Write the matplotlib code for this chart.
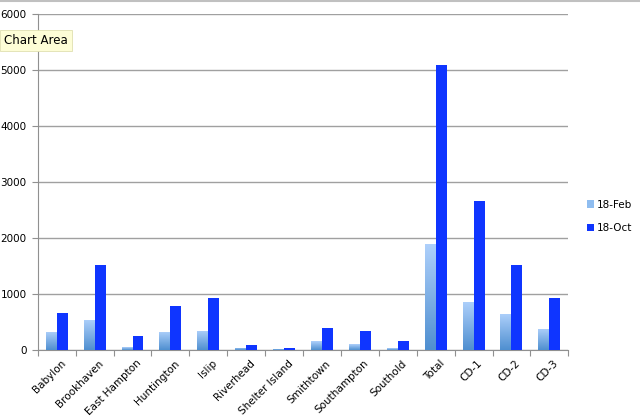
import matplotlib
matplotlib.use('Agg')
import matplotlib.pyplot as plt
import numpy as np
from matplotlib.colors import LinearSegmentedColormap

categories = ['Babylon', 'Brookhaven', 'East Hampton', 'Huntington', 'Islip', 'Riverhead',
              'Shelter Island', 'Smithtown', 'Southampton', 'Southold', 'Total',
              'CD-1', 'CD-2', 'CD-3']
feb = [327, 536, 48, 327, 340, 36, 18, 160, 107, 30, 1890, 863, 643, 375]
octo = [655, 1518, 250, 786, 923, 95, 36, 387, 333, 155, 5090, 2649, 1518, 929]
yticks = [0, 1000, 2000, 3000, 4000, 5000, 6000]

plt.rcParams['font.family'] = ['DejaVu Sans']
fig = plt.figure(figsize=(6.4, 4.18), dpi=100)
ax = fig.add_axes([0.059, 0.163, 0.829, 0.804])

x = np.arange(len(categories))
w = 0.29
grad = LinearSegmentedColormap.from_list('feb', ['#4f8fd0', '#aed0fb'])
bf = ax.bar(x - w/2, feb, w, color='#8fbdf0', edgecolor='none', label='18-Feb', zorder=3)
bo = ax.bar(x + w/2, octo, w, color='#0f35ff', edgecolor='none', label='18-Oct', zorder=3)
# vertical gradient on the Feb bars
for b in bf:
    x0, y0 = b.get_x(), b.get_y()
    im = ax.imshow(np.linspace(0, 1, 100).reshape(-1, 1), cmap=grad, origin='lower',
                   extent=[x0, x0 + b.get_width(), y0, y0 + b.get_height()],
                   aspect='auto', zorder=3)
    im.set_clip_path(b)

ax.set_xlim(-0.5, len(categories) - 0.5)
ax.set_ylim(0, 6000)
ax.set_yticks(yticks)
ax.set_yticklabels([str(t) for t in yticks], fontsize=7.5)
ax.yaxis.grid(True, color='#a0a0a0', lw=1, zorder=0)
ax.set_xticks(np.arange(len(categories) + 1) - 0.5, minor=False)
ax.set_xticklabels([])
ax.set_xticks(x + 0.1, minor=True)
ax.set_xticklabels(categories, minor=True, rotation=45, ha='right', rotation_mode='anchor', fontsize=7.5)
ax.tick_params(axis='x', which='minor', length=0, pad=6)
ax.tick_params(axis='x', which='major', length=4, color='#909090', direction='out')
ax.tick_params(axis='y', length=4, color='#909090', direction='out', pad=4)
for s in ['top', 'right']:
    ax.spines[s].set_visible(False)
for s in ['left', 'bottom']:
    ax.spines[s].set_color('#909090')

leg = fig.legend(handles=[bf, bo], loc='upper left', bbox_to_anchor=(0.902, 0.545),
                 frameon=False, fontsize=7.5, handlelength=0.7, handleheight=0.7,
                 handletextpad=0.3, labelspacing=1.3)

fig.add_artist(plt.Line2D([0, 1], [0.9985, 0.9985], color='#c0c0c0', lw=1.5))
fig.text(0.006, 0.903, 'Chart Area', fontsize=8.5, va='center', ha='left',
         bbox=dict(boxstyle='square,pad=0.35', fc='#fdfdd6', ec='#e0e0b0', lw=0.6))

fig.savefig('out.png', dpi=100)
